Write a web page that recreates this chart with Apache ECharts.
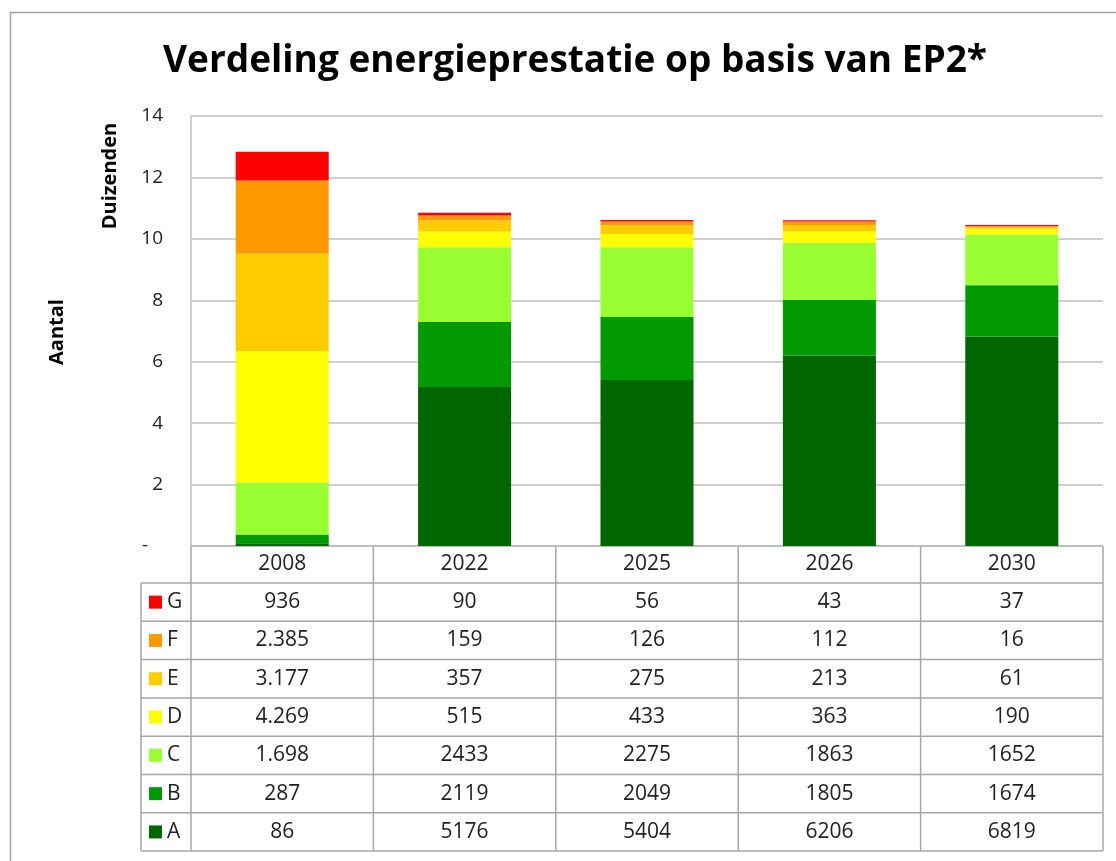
<!DOCTYPE html>
<html>
<head>
<meta charset="utf-8">
<script src="https://cdn.jsdelivr.net/npm/echarts@6/dist/echarts.min.js"></script>
<style>
  html, body { margin: 0; padding: 0; background: #fff; }
  #main { width: 1116px; height: 861px; }
</style>
</head>
<body>
<div id="main"></div>
<script>
// categorieen (jaren) en aantallen per energielabel
var years = ['2008', '2022', '2025', '2026', '2030'];
var labelA = [86, 5176, 5404, 6206, 6819];
var labelB = [287, 2119, 2049, 1805, 1674];
var labelC = [1698, 2433, 2275, 1863, 1652];
var labelD = [4269, 515, 433, 363, 190];
var labelE = [3177, 357, 275, 213, 61];
var labelF = [2385, 159, 126, 112, 16];
var labelG = [936, 90, 56, 43, 37];
// kolommen waar de tabel een punt als duizendtal-scheiding gebruikt
var dottedCols = [true, false, false, false, false];
var yTicks = [0, 2000, 4000, 6000, 8000, 10000, 12000, 14000];

var seriesDefs = [
  { name: 'A', data: labelA, color: '#006600' },
  { name: 'B', data: labelB, color: '#009900' },
  { name: 'C', data: labelC, color: '#99ff33' },
  { name: 'D', data: labelD, color: '#ffff00' },
  { name: 'E', data: labelE, color: '#ffcc00' },
  { name: 'F', data: labelF, color: '#ff9900' },
  { name: 'G', data: labelG, color: '#ff0000' }
];

var GRID_LEFT = 191, GRID_RIGHT = 13, GRID_TOP = 116, GRID_BOTTOM = 315;
var W = 1116, H = 861;
var plotBottom = H - GRID_BOTTOM;
var colW = (W - GRID_RIGHT - GRID_LEFT) / years.length;
var headerH = 37, rowH = 38.3, legendLeft = 141;
var lineColor = '#a6a6a6';
var font = "'Open Sans', sans-serif";

function fmt(v, col) {
  if (dottedCols[col] && v >= 1000) {
    var s = String(v);
    return s.slice(0, s.length - 3) + '.' + s.slice(s.length - 3);
  }
  return String(v);
}

var myChart = echarts.init(document.getElementById('main'));

// tabel onder de grafiek
var graphics = [];
graphics.push({
  type: 'rect', silent: true,
  shape: { x: 10.5, y: 12.5, width: 1200, height: 1000 },
  style: { fill: 'none', stroke: '#a0a0a0', lineWidth: 1.5 }
});
var tableRight = W - GRID_RIGHT;
var tableBottom = plotBottom + headerH + rowH * seriesDefs.length;
// horizontale lijnen
graphics.push({ type: 'line', silent: true, shape: { x1: GRID_LEFT, y1: plotBottom, x2: tableRight, y2: plotBottom }, style: { stroke: lineColor, lineWidth: 1.5 } });
for (var r = 0; r <= seriesDefs.length; r++) {
  var yy = plotBottom + headerH + r * rowH;
  graphics.push({ type: 'line', silent: true, shape: { x1: legendLeft, y1: yy, x2: tableRight, y2: yy }, style: { stroke: lineColor, lineWidth: 1.5 } });
}
// verticale lijnen
graphics.push({ type: 'line', silent: true, shape: { x1: legendLeft, y1: plotBottom + headerH, x2: legendLeft, y2: tableBottom }, style: { stroke: lineColor, lineWidth: 1.5 } });
for (var c = 0; c <= years.length; c++) {
  var xx = GRID_LEFT + c * colW;
  graphics.push({ type: 'line', silent: true, shape: { x1: xx, y1: plotBottom, x2: xx, y2: tableBottom }, style: { stroke: lineColor, lineWidth: 1.5 } });
}
// kop met jaren
years.forEach(function (yr, i) {
  graphics.push({
    type: 'text', silent: true,
    x: GRID_LEFT + (i + 0.5) * colW, y: plotBottom + headerH / 2,
    style: { text: yr, fill: '#222', font: '21px ' + font, align: 'center', verticalAlign: 'middle' }
  });
});
// rijen G..A
var rows = seriesDefs.slice().reverse();
rows.forEach(function (s, r) {
  var cy = plotBottom + headerH + (r + 0.5) * rowH;
  graphics.push({
    type: 'rect', silent: true,
    shape: { x: 149, y: cy - 6.5, width: 13, height: 13 },
    style: { fill: s.color }
  });
  graphics.push({
    type: 'text', silent: true, x: 167, y: cy,
    style: { text: s.name, fill: '#222', font: '21px ' + font, align: 'left', verticalAlign: 'middle' }
  });
  s.data.forEach(function (v, i) {
    graphics.push({
      type: 'text', silent: true,
      x: GRID_LEFT + (i + 0.5) * colW, y: cy,
      style: { text: fmt(v, i), fill: '#222', font: '21px ' + font, align: 'center', verticalAlign: 'middle' }
    });
  });
});
// as-titels
graphics.push({
  type: 'text', silent: true, x: 110, y: 176, rotation: Math.PI / 2,
  style: { text: 'Duizenden', fill: '#000', font: 'bold 20px ' + font, align: 'center', verticalAlign: 'middle' }
});
graphics.push({
  type: 'text', silent: true, x: 57, y: 332, rotation: Math.PI / 2,
  style: { text: 'Aantal', fill: '#000', font: 'bold 20px ' + font, align: 'center', verticalAlign: 'middle' }
});

var option = {
  backgroundColor: '#fff',
  animation: false,
  title: {
    text: 'Verdeling energieprestatie op basis van EP2*',
    left: 570,
    top: 38,
    textAlign: 'center',
    textStyle: { fontFamily: font, fontWeight: 'bold', fontSize: 37, color: '#000' }
  },
  grid: { left: GRID_LEFT, right: GRID_RIGHT, top: GRID_TOP, bottom: GRID_BOTTOM },
  xAxis: {
    type: 'category',
    data: years,
    axisLine: { show: false },
    axisTick: { show: false },
    axisLabel: { show: false }
  },
  yAxis: {
    type: 'value',
    min: 0,
    max: 14000,
    interval: 2000,
    axisLine: { show: true, lineStyle: { color: '#bfbfbf', width: 1.5 } },
    axisTick: { show: false },
    splitLine: { lineStyle: { color: '#bfbfbf', width: 1.5 } },
    axisLabel: {
      margin: 28,
      fontFamily: font,
      fontSize: 19,
      color: '#222',
      formatter: function (v) {
        if (yTicks.indexOf(v) < 0) return '';
        return v === 0 ? '-   ' : String(v / 1000);
      }
    }
  },
  series: seriesDefs.map(function (s) {
    return {
      name: s.name,
      type: 'bar',
      stack: 'totaal',
      barWidth: '51%',
      data: s.data,
      itemStyle: { color: s.color }
    };
  }),
  graphic: graphics
};

myChart.setOption(option);
</script>
</body>
</html>
